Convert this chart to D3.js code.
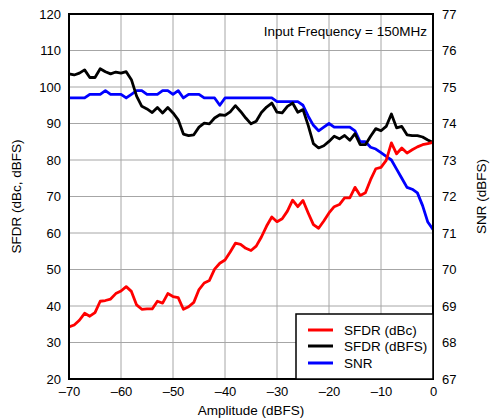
<!DOCTYPE html>
<html>
<head>
<meta charset="utf-8">
<script src="https://cdn.jsdelivr.net/npm/d3@7"></script>
<style>
  html, body { margin: 0; padding: 0; background: #fff; }
  svg { display: block; font-family: Arial, "Liberation Sans", sans-serif; }
</style>
</head>
<body>
<svg id="chart" width="495" height="419"></svg>
<script>
const amplitude = [-70,-69,-68,-67,-66,-65,-64,-63,-62,-61,-60,-59,-58,-57,-56,-55,-54,-53,-52,-51,
  -50,-49,-48,-47,-46,-45,-44,-43,-42,-41,-40,-39,-38,-37,-36,-35,-34,-33,-32,-31,
  -30,-29,-28,-27,-26,-25,-24,-23,-22,-21,-20,-19,-18,-17,-16,-15,-14,-13,-12,-11,
  -10,-9,-8,-7,-6,-5,-4,-3,-2,-1,0];

const sfdrDbc = [34.3,34.8,36.1,38.0,37.2,38.2,41.3,41.5,41.9,43.4,44.1,45.3,44.0,40.3,39.1,39.2,39.2,41.3,40.8,43.4,
  42.6,42.3,39.1,39.8,41.0,44.5,46.3,47.0,50.1,51.7,52.6,54.8,57.2,56.9,55.8,55.2,56.4,58.9,61.9,64.4,
  63.1,63.9,66.0,69.0,67.2,68.9,65.5,62.3,61.3,63.3,65.5,67.2,67.8,69.6,69.6,72.5,70.3,71.0,74.6,77.6,
  78.0,79.9,84.7,81.7,83.3,81.9,82.8,83.6,84.2,84.5,84.8];

const sfdrDbfs = [103.6,103.3,103.8,104.7,102.6,102.6,105.0,104.2,103.6,104.1,103.8,104.2,102.0,97.5,94.7,94.0,93.0,94.4,92.9,94.4,
  92.9,91.0,87.1,86.7,86.9,89.0,90.1,89.9,91.5,92.4,92.2,93.2,94.9,93.3,91.5,89.9,90.6,93.0,94.5,95.6,
  93.1,92.9,94.7,95.6,93.1,93.8,89.5,84.5,83.3,83.9,85.1,86.5,85.8,86.7,85.4,87.2,84.2,84.2,86.5,88.6,
  88.0,89.2,92.6,88.8,89.2,86.9,86.7,86.7,86.3,85.5,84.8];

const snr = [74.7,74.7,74.7,74.7,74.8,74.8,74.8,74.9,74.8,74.8,74.8,74.7,74.8,74.9,74.9,74.8,74.8,74.8,74.9,74.9,
  74.8,74.9,74.7,74.8,74.8,74.8,74.7,74.7,74.7,74.5,74.7,74.7,74.7,74.7,74.7,74.7,74.7,74.7,74.7,74.7,
  74.6,74.6,74.6,74.6,74.6,74.5,74.2,73.95,73.8,73.9,74.0,73.9,73.9,73.9,73.9,73.8,73.5,73.5,73.35,73.3,
  73.2,73.1,73.0,72.75,72.5,72.25,72.2,72.1,71.75,71.3,71.1];

const xTicks = [-70,-60,-50,-40,-30,-20,-10,0];
const leftTicks = [20,30,40,50,60,70,80,90,100,110,120];
const rightTicks = [67,68,69,70,71,72,73,74,75,76,77];

const seriesNames = ["SFDR (dBc)", "SFDR (dBFS)", "SNR"];
const seriesColors = ["#ff0000", "#000000", "#0000ff"];

const xTitle = "Amplitude (dBFS)";
const yLeftTitle = "SFDR (dBc, dBFS)";
const yRightTitle = "SNR (dBFS)";
const annotation = "Input Frequency = 150MHz";

const svg = d3.select("#chart");
const L = 69, R = 433, T = 14, B = 379;

const x = d3.scaleLinear().domain([-70, 0]).range([L, R]);
const yL = d3.scaleLinear().domain([20, 120]).range([B, T]);
const yR = d3.scaleLinear().domain([67, 77]).range([B, T]);

const fmt = v => (v < 0 ? "\u2013" + Math.abs(v) : String(v));

// gridlines
const grid = svg.append("g");
grid.selectAll("line.v").data(xTicks).join("line")
  .attr("x1", d => x(d)).attr("x2", d => x(d)).attr("y1", T).attr("y2", B)
  .attr("stroke", "#a6a6a6").attr("stroke-width", 1);
grid.selectAll("line.h").data(leftTicks).join("line")
  .attr("x1", L).attr("x2", R).attr("y1", d => yL(d)).attr("y2", d => yL(d))
  .attr("stroke", "#a6a6a6").attr("stroke-width", 1);

// axes (labels only)
const fs = 13;
const fs2 = 13.5;
const xAxis = d3.axisBottom(x).tickValues(xTicks).tickSize(0).tickPadding(8).tickFormat(fmt);
const gx = svg.append("g").attr("transform", `translate(0,${B})`).call(xAxis);
const yAxisL = d3.axisLeft(yL).tickValues(leftTicks).tickSize(0).tickPadding(8);
const gyl = svg.append("g").attr("transform", `translate(${L},0)`).call(yAxisL);
const yAxisR = d3.axisRight(yR).tickValues(rightTicks).tickSize(0).tickPadding(9);
const gyr = svg.append("g").attr("transform", `translate(${R},0)`).call(yAxisR);
[gx, gyl, gyr].forEach(g => {
  g.select(".domain").remove();
  g.selectAll("text").attr("font-size", fs).attr("fill", "#000")
    .attr("font-family", "Arial, 'Liberation Sans', sans-serif");
});

// lines
const seriesData = [sfdrDbc, sfdrDbfs, snr];
const scales = [yL, yL, yR];
const drawOrder = [2, 1, 0];
drawOrder.forEach(i => {
  const line = d3.line().x((d, j) => x(amplitude[j])).y(d => scales[i](d));
  svg.append("path").datum(seriesData[i])
    .attr("d", line).attr("fill", "none")
    .attr("stroke", seriesColors[i]).attr("stroke-width", 2.8)
    .attr("stroke-linejoin", "round");
});

// frame
svg.append("rect").attr("x", L).attr("y", T).attr("width", R - L).attr("height", B - T)
  .attr("fill", "none").attr("stroke", "#000").attr("stroke-width", 2);

// annotation
svg.append("text").attr("x", 427).attr("y", 36).attr("text-anchor", "end")
  .attr("font-size", fs2).text(annotation);

// legend
const lg = svg.append("g");
lg.append("rect").attr("x", 296).attr("y", 314).attr("width", R - 296).attr("height", B - 314)
  .attr("fill", "#fff").attr("stroke", "#000").attr("stroke-width", 1.5);
const rowsY = [330, 346, 363];
seriesNames.forEach((n, i) => {
  lg.append("line").attr("x1", 308).attr("x2", 333).attr("y1", rowsY[i]).attr("y2", rowsY[i])
    .attr("stroke", seriesColors[i]).attr("stroke-width", 3);
  lg.append("text").attr("x", 344).attr("y", rowsY[i]).attr("dy", "0.35em")
    .attr("font-size", fs2).text(n);
});

// titles
svg.append("text").attr("x", 251).attr("y", 415).attr("text-anchor", "middle")
  .attr("font-size", fs2).text(xTitle);
svg.append("text").attr("transform", `translate(21,${(T + B) / 2}) rotate(-90)`)
  .attr("text-anchor", "middle").attr("font-size", fs2).text(yLeftTitle);
svg.append("text").attr("transform", `translate(486,${(T + B) / 2}) rotate(-90)`)
  .attr("text-anchor", "middle").attr("font-size", fs2).text(yRightTitle);
</script>
</body>
</html>
